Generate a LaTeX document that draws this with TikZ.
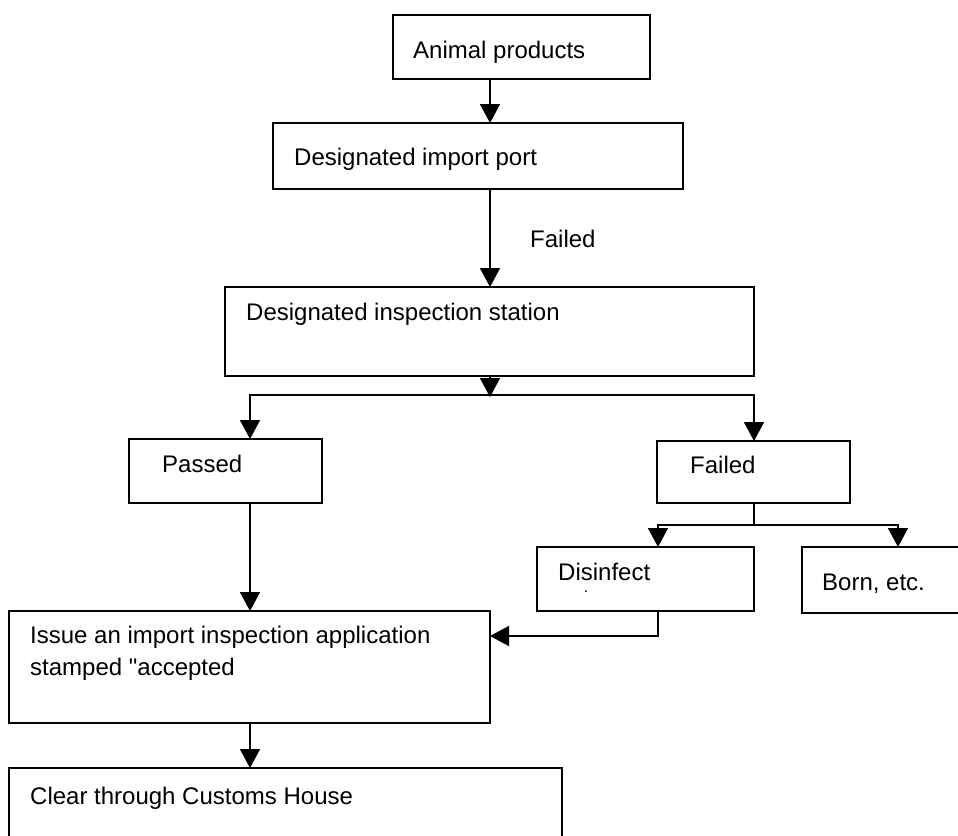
\documentclass[tikz,border=0pt]{standalone}
\usepackage{fontspec}
\setmainfont{Liberation Sans}
\newfontfamily\plainquote{Liberation Sans}
\usetikzlibrary{arrows.meta,calc}
\begin{document}
\begin{tikzpicture}[x=1pt,y=-1pt,
  box/.style={draw=black,line width=1.6pt,rectangle,anchor=north west,inner sep=0pt,outer sep=0pt},
  txt/.style={anchor=base west,inner sep=0pt,font=\fontsize{24}{29}\selectfont},
  conn/.style={line width=1.6pt},
  arr/.style={line width=1.6pt,-{Triangle[width=20pt,length=19pt]}}]
\useasboundingbox (0,0) rectangle (958,835);
\clip (0,0) rectangle (958,835);
\fill[white] (0,0) rectangle (958,835);
% boxes
\node[box,minimum width=257pt,minimum height=64pt] (b1) at (393,15) {};
\node[box,minimum width=410pt,minimum height=66pt] (b2) at (273,123) {};
\node[box,minimum width=529pt,minimum height=89pt] (b3) at (225,287) {};
\node[box,minimum width=193pt,minimum height=64pt] (b4) at (129,439) {};
\node[box,minimum width=193pt,minimum height=62pt] (b5) at (657,441) {};
\node[box,minimum width=217pt,minimum height=64pt] (b6) at (537,547) {};
\node[box,minimum width=250pt,minimum height=66pt] (b7) at (802,547) {};
\node[box,minimum width=481pt,minimum height=112pt] (b8) at (9,611) {};
\node[box,minimum width=553pt,minimum height=120pt] (b9) at (9,768) {};
% texts
\node[txt] (t1) at (413,58) {Animal products};
\node[txt] (t2) at (294,165) {Designated import port};
\node[txt] (tf) at (530,247) {Failed};
\node[txt] (t3) at (246,320) {Designated inspection station};
\node[txt] (t4) at (162,472) {Passed};
\node[txt] (t5) at (690,473) {Failed};
\node[txt] (t6) at (558,580) {Disinfect};
\fill (586,591) circle (1pt);
\node[txt] (t7) at (822,590) {Born, etc.};
\node[txt] (t8a) at (30,643) {Issue an import inspection application};
\node[txt] (t8b) at (30,675) {stamped {\plainquote"}accepted};
\node[txt] (t9) at (30,804) {Clear through Customs House};
% connector columns and junctions
\coordinate (c490) at (490,0);
\coordinate (c250) at (250,0);
\coordinate (c754) at (754,0);
\coordinate (c658) at (658,0);
\coordinate (c898) at (898,0);
\coordinate (j1) at (490,395);
\coordinate (j2) at (754,525);
\coordinate (j3) at (658,636);
% connectors
\draw[arr] (b1.south -| c490) -- (b2.north -| c490);
\draw[arr] (b2.south -| c490) -- (b3.north -| c490);
\draw[arr] (b3.south -| c490) -- ($(j1)+(0,2)$);
\draw[arr] (j1) -| (b4.north -| c250);
\draw[arr] (j1) -| (b5.north -| c754);
\draw[conn] (b5.south -| c754) -- (j2);
\draw[arr] (j2) -| (b6.north -| c658);
\draw[arr] (j2) -| (b7.north -| c898);
\draw[arr] (b6.south -| c658) -- (j3) -- (b8.east |- j3);
\draw[arr] (b4.south -| c250) -- (b8.north -| c250);
\draw[arr] (b8.south -| c250) -- (b9.north -| c250);
\end{tikzpicture}
\end{document}
